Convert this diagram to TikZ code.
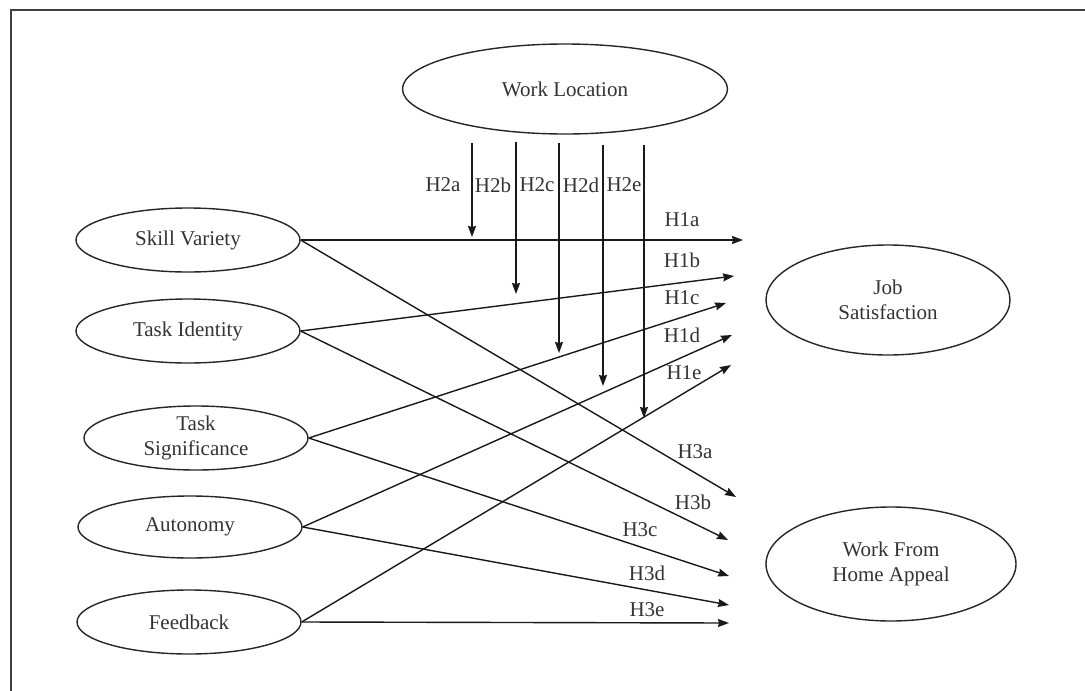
\documentclass[tikz,border=0pt]{standalone}
\usepackage{fontspec}
\setmainfont{Liberation Serif}
\usetikzlibrary{shapes.geometric,arrows.meta}
\begin{document}
\begin{tikzpicture}[x=1pt,y=-1pt,
  var/.style={draw=black!85,line width=1.4pt,ellipse,inner sep=0pt,align=center,
    font=\fontsize{21}{25}\selectfont,text=black!80},
  lbl/.style={font=\fontsize{21}{24}\selectfont,text=black!80,inner sep=0pt},
  arr/.style={draw=black!90,line width=1.4pt,-{Stealth[length=11pt,width=8pt,inset=1pt]}}]
\useasboundingbox (0,0) rectangle (1085,691);
\draw[line width=2pt,black!75] (10.5,700) -- (10.5,9.5) -- (1095,9.5);
% variables
\node[var,minimum width=325pt,minimum height=90pt] (wl) at (565,89) {Work Location};
\node[var,minimum width=224pt,minimum height=64pt] (sv) at (188,240) {Skill Variety};
\node[var,minimum width=224pt,minimum height=64pt] (ti) at (188,331) {Task Identity};
\node[var,minimum width=224pt,minimum height=64pt] (ts) at (196,438) {Task\\Significance};
\node[var,minimum width=224pt,minimum height=62pt] (au) at (190,527) {Autonomy};
\node[var,minimum width=224pt,minimum height=64pt] (fb) at (189,622) {Feedback};
\node[var,minimum width=244pt,minimum height=110pt] (js) at (888,300) {Job\\Satisfaction};
\node[var,minimum width=250pt,minimum height=114pt] (wh) at (891,564) {Work From\\Home Appeal};
% arrow end points
\coordinate (t1a) at (743,240);
\coordinate (t1b) at (734,276);
\coordinate (t1c) at (726,303);
\coordinate (t1d) at (732,335);
\coordinate (t1e) at (731,365);
\coordinate (t3a) at (736,497);
\coordinate (t3b) at (728,540);
\coordinate (t3c) at (729,576);
\coordinate (t3d) at (729,605);
\coordinate (t3e) at (729,623);
\coordinate (s2a) at (472,143); \coordinate (t2a) at (472,237);
\coordinate (s2b) at (516,142); \coordinate (t2b) at (516,294);
\coordinate (s2c) at (559,143); \coordinate (t2c) at (559,353);
\coordinate (s2d) at (603,145); \coordinate (t2d) at (603,386);
\coordinate (s2e) at (644,145); \coordinate (t2e) at (644,418);
% H1
\draw[arr] (sv.east) -- (t1a);
\draw[arr] (ti.east) -- (t1b);
\draw[arr] (ts.east) -- (t1c);
\draw[arr] (au.east) -- (t1d);
\draw[arr] (fb.east) -- (t1e);
% H3
\draw[arr] (sv.east) -- (t3a);
\draw[arr] (ti.east) -- (t3b);
\draw[arr] (ts.east) -- (t3c);
\draw[arr] (au.east) -- (t3d);
\draw[arr] (fb.east) -- (t3e);
% H2
\draw[arr] (s2a) -- (t2a);
\draw[arr] (s2b) -- (t2b);
\draw[arr] (s2c) -- (t2c);
\draw[arr] (s2d) -- (t2d);
\draw[arr] (s2e) -- (t2e);
% labels
\node[lbl] (l2a) at (443,185) {H2a};
\node[lbl] (l2b) at (493,185) {H2b};
\node[lbl] (l2c) at (537,185) {H2c};
\node[lbl] (l2d) at (581,185) {H2d};
\node[lbl] (l2e) at (624,185) {H2e};
\node[lbl] (l1a) at (682,220) {H1a};
\node[lbl] (l1b) at (682,260) {H1b};
\node[lbl] (l1c) at (682,298) {H1c};
\node[lbl] (l1d) at (682,335) {H1d};
\node[lbl] (l1e) at (684,373) {H1e};
\node[lbl] (l3a) at (695,452) {H3a};
\node[lbl] (l3b) at (693,502) {H3b};
\node[lbl] (l3c) at (640,530) {H3c};
\node[lbl] (l3d) at (647,573) {H3d};
\node[lbl] (l3e) at (647,610) {H3e};
\end{tikzpicture}
\end{document}
